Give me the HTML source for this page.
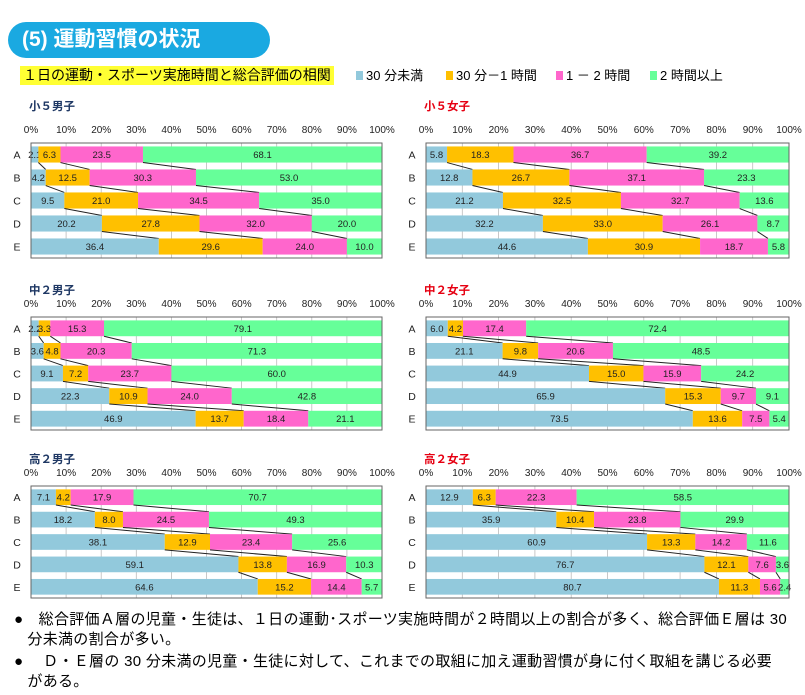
<!DOCTYPE html>
<html><head><meta charset="utf-8">
<style>
body{margin:0;background:#fff;width:805px;height:695px;overflow:hidden;font-family:"Liberation Sans","Noto Sans CJK JP",sans-serif;}
#pill{position:absolute;left:8px;top:22px;width:262px;height:36px;background:#1aa9e1;border-radius:18px;color:#fff;font-weight:bold;font-size:21px;line-height:36px;padding-left:14px;box-sizing:border-box;}
#sub{position:absolute;left:20px;top:66px;height:19px;background:#ffff33;font-size:14px;line-height:19px;padding:0 3px;}
.leg{position:absolute;top:67px;font-size:13px;line-height:17px;}
.leg i{display:inline-block;width:7px;height:9px;margin-right:3px;vertical-align:0px;}
.note{position:absolute;left:14px;font-size:15px;line-height:20px;width:790px;letter-spacing:0.3px;}
</style></head><body>
<div id="pill">(5) 運動習慣の状況</div>
<div id="sub">１日の運動・スポーツ実施時間と総合評価の相関</div>
<div class="leg" style="left:356px"><i style="background:#92c9dc"></i>30 分未満</div>
<div class="leg" style="left:446px"><i style="background:#ffc000"></i>30 分－1 時間</div>
<div class="leg" style="left:556px"><i style="background:#ff66cc"></i>1 － 2 時間</div>
<div class="leg" style="left:650px"><i style="background:#66ff99"></i>2 時間以上</div>
<svg id="svg" width="805" height="695" style="position:absolute;left:0;top:0"></svg>
<div class="note" style="top:610px">●　総合評価Ａ層の児童・生徒は、１日の運動･スポーツ実施時間が２時間以上の割合が多く、総合評価Ｅ層は 30<br>&nbsp;&nbsp;&nbsp;分未満の割合が多い。</div>
<div class="note" style="top:652px">●　 Ｄ・Ｅ層の 30 分未満の児童・生徒に対して、これまでの取組に加え運動習慣が身に付く取組を講じる必要<br>&nbsp;&nbsp;&nbsp;がある。</div>
<script>
const categories=["A","B","C","D","E"];
const seriesNames=["30分未満","30分-1時間","1-2時間","2時間以上"];
const ticks=["0%","10%","20%","30%","40%","50%","60%","70%","80%","90%","100%"];
const e5boy=[[2.1,6.3,23.5,68.1],[4.2,12.5,30.3,53.0],[9.5,21.0,34.5,35.0],[20.2,27.8,32.0,20.0],[36.4,29.6,24.0,10.0]];
const e5girl=[[5.8,18.3,36.7,39.2],[12.8,26.7,37.1,23.3],[21.2,32.5,32.7,13.6],[32.2,33.0,26.1,8.7],[44.6,30.9,18.7,5.8]];
const m2boy=[[2.2,3.3,15.3,79.1],[3.6,4.8,20.3,71.3],[9.1,7.2,23.7,60.0],[22.3,10.9,24.0,42.8],[46.9,13.7,18.4,21.1]];
const m2girl=[[6.0,4.2,17.4,72.4],[21.1,9.8,20.6,48.5],[44.9,15.0,15.9,24.2],[65.9,15.3,9.7,9.1],[73.5,13.6,7.5,5.4]];
const h2boy=[[7.1,4.2,17.9,70.7],[18.2,8.0,24.5,49.3],[38.1,12.9,23.4,25.6],[59.1,13.8,16.9,10.3],[64.6,15.2,14.4,5.7]];
const h2girl=[[12.9,6.3,22.3,58.5],[35.9,10.4,23.8,29.9],[60.9,13.3,14.2,11.6],[76.7,12.1,7.6,3.6],[80.7,11.3,5.6,2.4]];
const colors=["#92c9dc","#ffc000","#ff66cc","#66ff99"];
const svg=document.getElementById('svg');
const NS="http://www.w3.org/2000/svg";
function mk(tag,attrs,parent){const e=document.createElementNS(NS,tag);for(const k in attrs)e.setAttribute(k,attrs[k]);(parent||svg).appendChild(e);return e;}
const panels=[
 {name:"小５男子",d:e5boy,x0:31,x1:382,top:143,bot:258,ty:110,red:false},
 {name:"小５女子",d:e5girl,x0:426,x1:789,top:143,bot:258,ty:110,red:true},
 {name:"中２男子",d:m2boy,x0:31,x1:382,top:317,bot:430,ty:294,red:false},
 {name:"中２女子",d:m2girl,x0:426,x1:789,top:317,bot:430,ty:294,red:true},
 {name:"高２男子",d:h2boy,x0:31,x1:382,top:486,bot:598,ty:463,red:false},
 {name:"高２女子",d:h2girl,x0:426,x1:789,top:486,bot:598,ty:463,red:true}];
panels.forEach((p,pi)=>{
 const g=mk('g',{});
 
 
 const xs=v=>p.x0+(p.x1-p.x0)*v/100;
 const rh=(p.bot-p.top)/categories.length, bh=rh*0.7;
 const ys=i=>p.top+rh*i+rh/2;
 const t=mk('text',{x:p.x0-2,y:p.ty,'font-size':11.5,'font-weight':'bold',fill:p.red?'#e60012':'#1f3864'},g);t.textContent=p.name;
 
 ticks.forEach((tk,i)=>{const v=i*10;
  const tt=mk('text',{x:xs(v),y:p.top-10,'font-size':10,'text-anchor':'middle',fill:'#222'},g);tt.textContent=tk;
  
  mk('line',{x1:xs(v),x2:xs(v),y1:p.top,y2:p.bot,stroke:'#bbb','stroke-width':0.8},g);});
 p.d.forEach((row,i)=>{
  let c=0;
  const lab=mk('text',{x:p.x0-14,y:ys(i)+4,'font-size':10.5,'text-anchor':'middle',fill:'#222'},g);lab.textContent=categories[i];
  
  row.forEach((v,k)=>{
   const r=mk('rect',{x:xs(c),y:ys(i)-bh/2,width:xs(c+v)-xs(c),height:bh,fill:colors[k]},g);
   
   
   const tv=mk('text',{x:xs(c+v/2),y:ys(i)+3.5,'font-size':9.5,'text-anchor':'middle',fill:'#222'},g);tv.textContent=v.toFixed(1);
   
   c+=v;});
  if(i<p.d.length-1){let a=0,b=0;for(let k=0;k<3;k++){a+=row[k];b+=p.d[i+1][k];
   mk('line',{x1:xs(a),y1:ys(i)+bh/2,x2:xs(b),y2:ys(i+1)-bh/2,stroke:'#222','stroke-width':1},g);}}
 });
 mk('rect',{x:p.x0,y:p.top,width:p.x1-p.x0,height:p.bot-p.top,fill:'none',stroke:'#666','stroke-width':1},g);
});
</script>
</body></html>
